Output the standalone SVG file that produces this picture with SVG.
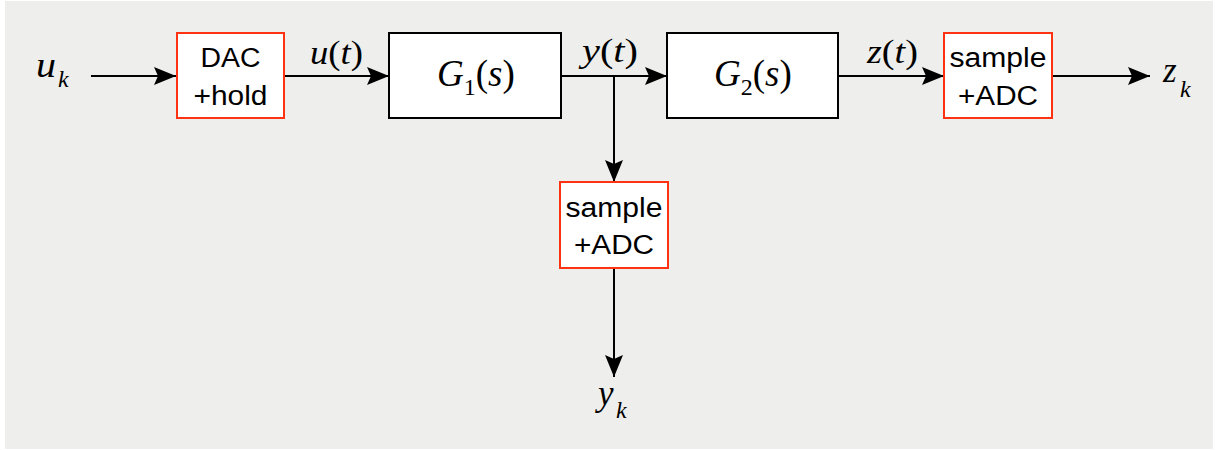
<svg xmlns="http://www.w3.org/2000/svg" width="1219" height="450" viewBox="0 0 1219 450">
  <style>
    .blk { fill: #ffffff; stroke: #000000; stroke-width: 2; }
    .red { fill: #ffffff; stroke: #ff3311; stroke-width: 2; }
    .lbl { font-family: "Liberation Sans", Arial, sans-serif; font-size: 27px; fill: #000; text-anchor: middle; }
    .m { font-family: "Liberation Serif", "Times New Roman", serif; font-size: 33px; fill: #000; }
    .g { font-size: 37px; }
    .v { font-size: 35px; }
    .mi { font-style: italic; }
    .sub { font-size: 24px; }
    .wire { stroke: #000; stroke-width: 2; fill: none; }
  </style>
  <defs>
    <marker id="arr" markerUnits="userSpaceOnUse" markerWidth="24" markerHeight="20" refX="22" refY="9" orient="auto">
      <path d="M0,0 L22,9 L0,18 L4,9 Z" fill="#000"/>
    </marker>
  </defs>

  <rect x="5" y="1" width="1208" height="448" fill="#eeeeec"/>

  <g id="connectors">
    <line class="wire" x1="91" y1="76" x2="176" y2="76" marker-end="url(#arr)"/>
    <line class="wire" x1="284" y1="76" x2="389" y2="76" marker-end="url(#arr)"/>
    <line class="wire" x1="561" y1="76" x2="667" y2="76" marker-end="url(#arr)"/>
    <line class="wire" x1="614" y1="76" x2="614" y2="182" marker-end="url(#arr)"/>
    <line class="wire" x1="838" y1="76" x2="944" y2="76" marker-end="url(#arr)"/>
    <line class="wire" x1="1052" y1="76" x2="1150" y2="76" marker-end="url(#arr)"/>
    <line class="wire" x1="614" y1="268" x2="614" y2="377" marker-end="url(#arr)"/>
  </g>

  <g id="in-uk">
    <text class="m v mi" x="36" y="77" textLength="20" lengthAdjust="spacingAndGlyphs">u</text>
    <text class="m sub mi" x="58" y="87">k</text>
  </g>

  <g id="dac">
    <rect class="red" x="177" y="33" width="107" height="85"/>
    <text class="lbl" x="230.5" y="67" textLength="60" lengthAdjust="spacingAndGlyphs">DAC</text>
    <text class="lbl" x="230.5" y="105" textLength="74" lengthAdjust="spacingAndGlyphs">+hold</text>
  </g>

  <g id="lbl-ut">
    <text class="m" x="310" y="64" textLength="53" lengthAdjust="spacingAndGlyphs"><tspan class="mi">u</tspan>(<tspan class="mi">t</tspan>)</text>
  </g>

  <g id="g1">
    <rect class="blk" x="389" y="33" width="172" height="85"/>
    <text class="m g" x="437" y="86"><tspan class="mi">G</tspan><tspan class="sub" dy="9">1</tspan><tspan dy="-9">(</tspan><tspan class="mi">s</tspan>)</text>
  </g>

  <g id="lbl-yt">
    <text class="m" x="582" y="62" textLength="56" lengthAdjust="spacingAndGlyphs"><tspan class="mi">y</tspan>(<tspan class="mi">t</tspan>)</text>
  </g>

  <g id="g2">
    <rect class="blk" x="667" y="33" width="171" height="85"/>
    <text class="m g" x="714" y="86"><tspan class="mi">G</tspan><tspan class="sub" dy="9">2</tspan><tspan dy="-9">(</tspan><tspan class="mi">s</tspan>)</text>
  </g>

  <g id="lbl-zt">
    <text class="m" x="867" y="63" textLength="51" lengthAdjust="spacingAndGlyphs"><tspan class="mi">z</tspan>(<tspan class="mi">t</tspan>)</text>
  </g>

  <g id="adc-z">
    <rect class="red" x="944" y="33" width="108" height="85"/>
    <text class="lbl" x="998" y="67" textLength="97" lengthAdjust="spacingAndGlyphs">sample</text>
    <text class="lbl" x="998" y="105" textLength="80" lengthAdjust="spacingAndGlyphs">+ADC</text>
  </g>

  <g id="out-zk">
    <text class="m v mi" x="1163" y="82">z</text>
    <text class="m sub mi" x="1180" y="97">k</text>
  </g>

  <g id="adc-y">
    <rect class="red" x="560" y="182" width="108" height="86"/>
    <text class="lbl" x="614" y="217" textLength="97" lengthAdjust="spacingAndGlyphs">sample</text>
    <text class="lbl" x="614" y="254" textLength="80" lengthAdjust="spacingAndGlyphs">+ADC</text>
  </g>

  <g id="out-yk">
    <text class="m v mi" x="598" y="405">y</text>
    <text class="m sub mi" x="616" y="418">k</text>
  </g>
</svg>
